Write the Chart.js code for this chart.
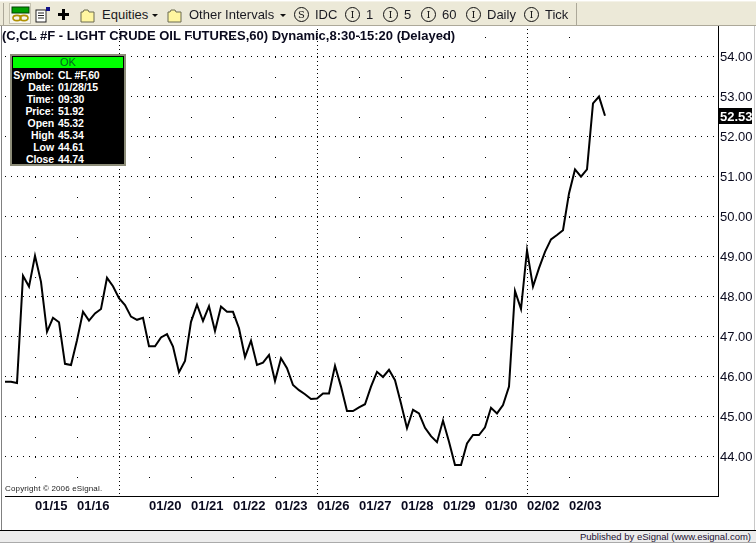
<!DOCTYPE html>
<html><head><meta charset="utf-8">
<script src="https://cdn.jsdelivr.net/npm/chart.js@4"></script>
<style>
html,body{margin:0;padding:0;background:#fff;width:756px;height:544px;overflow:hidden}
#wrap{position:relative;width:756px;height:544px;font-family:"Liberation Sans",Arial,sans-serif}
canvas{position:absolute;left:0;top:0}
.abs{position:absolute;white-space:nowrap}
#bar{left:0;top:1px;width:756px;height:25px;background:#ece9d8;border-bottom:1px solid #aca899;border-top:1px solid #f4f2e8;box-sizing:border-box}
.t{position:absolute;top:6px;font-size:13px;line-height:14px;color:#1a1a22;white-space:nowrap}
.c{position:absolute;top:5px;width:13px;height:13px;border:1px solid #111;border-radius:50%;font:10px/13px "DejaVu Serif",serif;text-align:center;color:#111;background:transparent}
.arr{position:absolute;top:12px;width:0;height:0;border-left:3px solid transparent;border-right:3px solid transparent;border-top:3px solid #111}
.sep{position:absolute;top:1px;width:1px;height:22px;background:#aca899}
#title{left:2px;top:28px;font-weight:bold;font-size:13px;line-height:15px;color:#0a0a1e}
#box{left:10px;top:54px;width:116px;height:112px;background:#000;border:2px solid #8c8c78;box-sizing:border-box;color:#fff;font-size:11px}
#ok{position:absolute;left:1px;top:1px;width:110px;height:11px;background:#00ff00;color:#062;font-size:11px;line-height:11px;text-align:center}
.row{position:absolute;left:0;width:112px;height:12px;line-height:12px;font-weight:bold;font-size:10.5px;letter-spacing:-.1px}
.row b{position:absolute;right:70px;font-weight:bold}
.row i{position:absolute;left:46px;font-style:normal}
#copy{left:5px;top:484px;font-size:8px;line-height:10px;letter-spacing:.15px;color:#222}
#left{left:1px;top:26px;width:1px;height:504px;background:#808080}
#foot{left:0;top:530px;width:756px;background:#ececec;border-top:1px solid #000;border-bottom:1px solid #aaa;height:11px}
#pub{right:5px;top:530px;font-size:9.5px;line-height:13px;color:#1a1030}
#rb{left:754px;top:26px;width:1px;height:504px;background:#c8c8c8}
</style></head><body>
<div id="wrap">
<canvas id="c" width="756" height="544"></canvas>
<div class="abs" id="left"></div><div class="abs" id="rb"></div>
<div class="abs" id="bar">
 <div class="sep" style="left:3px"></div>
 <div style="position:absolute;left:10px;top:2px;width:20px;height:19px;background:#f6f5ee;outline:1px solid #c5c2b0"></div>
 <svg style="position:absolute;left:0;top:0" width="200" height="24">
  <rect x="12" y="5" width="17" height="6" fill="#00a000" stroke="#004000"/>
  <ellipse cx="17" cy="16" rx="4" ry="2.6" fill="none" stroke="#b09000" stroke-width="1.6"/>
  <ellipse cx="24" cy="16" rx="4" ry="2.6" fill="none" stroke="#b09000" stroke-width="1.6"/>
  <rect x="36" y="8" width="10" height="12" fill="#fff" stroke="#222"/>
  <path d="M38 11h6M38 13.500h6M38 16h6" stroke="#222"/><rect x="46" y="5" width="4" height="4" fill="#118"/>
  <path d="M63.500 7v11M58 12.500h11" stroke="#000" stroke-width="3"/>
  <path d="M81 10h2l1-2h4l1 2h5v10h-13z" fill="#fff6a0" stroke="#6a6a50"/>
  <path d="M168 10h2l1-2h4l1 2h5v10h-13z" fill="#fff6a0" stroke="#6a6a50"/>
 </svg>
 <span class="t" style="left:102px">Equities</span><div class="arr" style="left:152px"></div>
 <span class="t" style="left:189px">Other Intervals</span><div class="arr" style="left:280px"></div>
 <div class="c" style="left:294px">S</div><span class="t" style="left:315px">IDC</span>
 <div class="c" style="left:345px">I</div><span class="t" style="left:366px">1</span>
 <div class="c" style="left:383px">I</div><span class="t" style="left:404px">5</span>
 <div class="c" style="left:421px">I</div><span class="t" style="left:442px">60</span>
 <div class="c" style="left:466px">I</div><span class="t" style="left:487px">Daily</span>
 <div class="c" style="left:524px">I</div><span class="t" style="left:545px">Tick</span>
 <div class="sep" style="left:576px"></div>
</div>
<div class="abs" id="title">(C,CL #F - LIGHT CRUDE OIL FUTURES,60) Dynamic,8:30-15:20 (Delayed)</div>
<div class="abs" id="box"><div id="ok">OK</div></div>
<div class="abs" id="copy">Copyright © 2006 eSignal.</div>
<div class="abs" id="foot"></div>
<div class="abs" id="pub">Published by eSignal (www.esignal.com)</div>
</div>
<script>
const prices = [45.88,45.88,45.85,48.53,48.26,49.03,48.38,47.13,47.48,47.37,46.33,46.30,46.92,47.63,47.41,47.59,47.70,48.48,48.27,47.97,47.80,47.51,47.43,47.48,46.77,46.77,46.99,47.07,46.76,46.12,46.40,47.38,47.81,47.40,47.77,47.15,47.76,47.63,47.63,47.22,46.50,46.91,46.30,46.36,46.55,45.90,46.47,46.22,45.80,45.67,45.57,45.45,45.46,45.59,45.59,46.28,45.76,45.15,45.15,45.24,45.32,45.76,46.13,46.00,46.18,45.92,45.34,44.72,45.18,45.09,44.73,44.52,44.37,44.91,44.38,43.80,43.80,44.34,44.55,44.55,44.74,45.23,45.09,45.30,45.76,48.15,47.70,49.17,48.26,48.72,49.13,49.44,49.55,49.67,50.59,51.19,51.01,51.19,52.84,53.01,52.53];
const dateTickIndex = [5,12,19,24,31,38,45,52,59,66,73,80,87,94];
const dateTickLabels = ['01/15','01/16','','01/20','01/21','01/22','01/23','01/26','01/27','01/28','01/29','01/30','02/02','02/03'];
const weekStartIndex = [19,52,87];
const priceTicks = [44,45,46,47,48,49,50,51,52,53,54];
const infoLabels = ['Symbol:','Date:','Time:','Price:','Open','High','Low','Close'];
const infoValues = ['CL #F,60','01/28/15','09:30','51.92','45.32','45.34','44.61','44.74'];

const box = document.getElementById('box');
infoLabels.forEach((l,k)=>{
  const r=document.createElement('div');r.className='row';r.style.top=(13+12*k)+'px';
  r.innerHTML='<b>'+l+'</b><i>'+infoValues[k]+'</i>';box.appendChild(r);
});

const lastPriceTag = {
  id:'lastPriceTag',
  afterDraw(ch){
    const v=prices[prices.length-1], y=ch.scales.y.getPixelForValue(v), g=ch.ctx;
    g.save();g.fillStyle='#000';g.fillRect(719,Math.round(y)-8,33,16);
    g.fillStyle='#fff';g.font='bold 13px "Liberation Sans"';g.textBaseline='middle';g.textAlign='left';
    g.fillText(v.toFixed(2),720,Math.round(y)+1);g.restore();
  }
};
new Chart(document.getElementById('c'),{
  type:'line',
  data:{datasets:[{data:prices.map((p,i)=>({x:i,y:p})),borderColor:'#000',borderWidth:2,pointRadius:0,tension:0,fill:false,clip:false}]},
  plugins:[lastPriceTag],
  options:{
    responsive:false,animation:false,devicePixelRatio:1,
    layout:{padding:{left:5,top:26,right:0,bottom:0}},
    plugins:{legend:{display:false},tooltip:{enabled:false},title:{display:false}},
    scales:{
      x:{type:'linear',min:0,max:118.8333,
        afterBuildTicks:s=>{s.ticks=dateTickIndex.map(v=>({value:v}));},
        afterFit:s=>{s.height=48;},
        grid:{color:'#000',lineWidth:1,drawTicks:false},
        border:{display:true,color:'#000',width:1,
          dash:c=>weekStartIndex.includes(c.tick&&c.tick.value)?[1,3]:[1,19],dashOffset:9},
        ticks:{autoSkip:false,maxRotation:0,minRotation:0,align:'start',padding:3,color:'#0a0a1e',
          font:{family:'"Liberation Sans"',size:13,weight:'bold'},
          callback:v=>{const k=dateTickIndex.indexOf(v);return k<0?'':dateTickLabels[k];}}
      },
      y:{type:'linear',position:'right',min:43.025,max:54.775,
        afterBuildTicks:s=>{s.ticks=priceTicks.map(v=>({value:v}));},
        afterFit:s=>{s.width=38;},
        grid:{color:'#000',lineWidth:1,drawTicks:false},
        border:{display:true,color:'#000',width:1,dash:[1,5]},
        ticks:{padding:2,color:'#0a0a1e',font:{family:'"Liberation Sans"',size:13},callback:v=>Number(v).toFixed(2)}
      }
    }
  }
});
</script>
</body></html>
